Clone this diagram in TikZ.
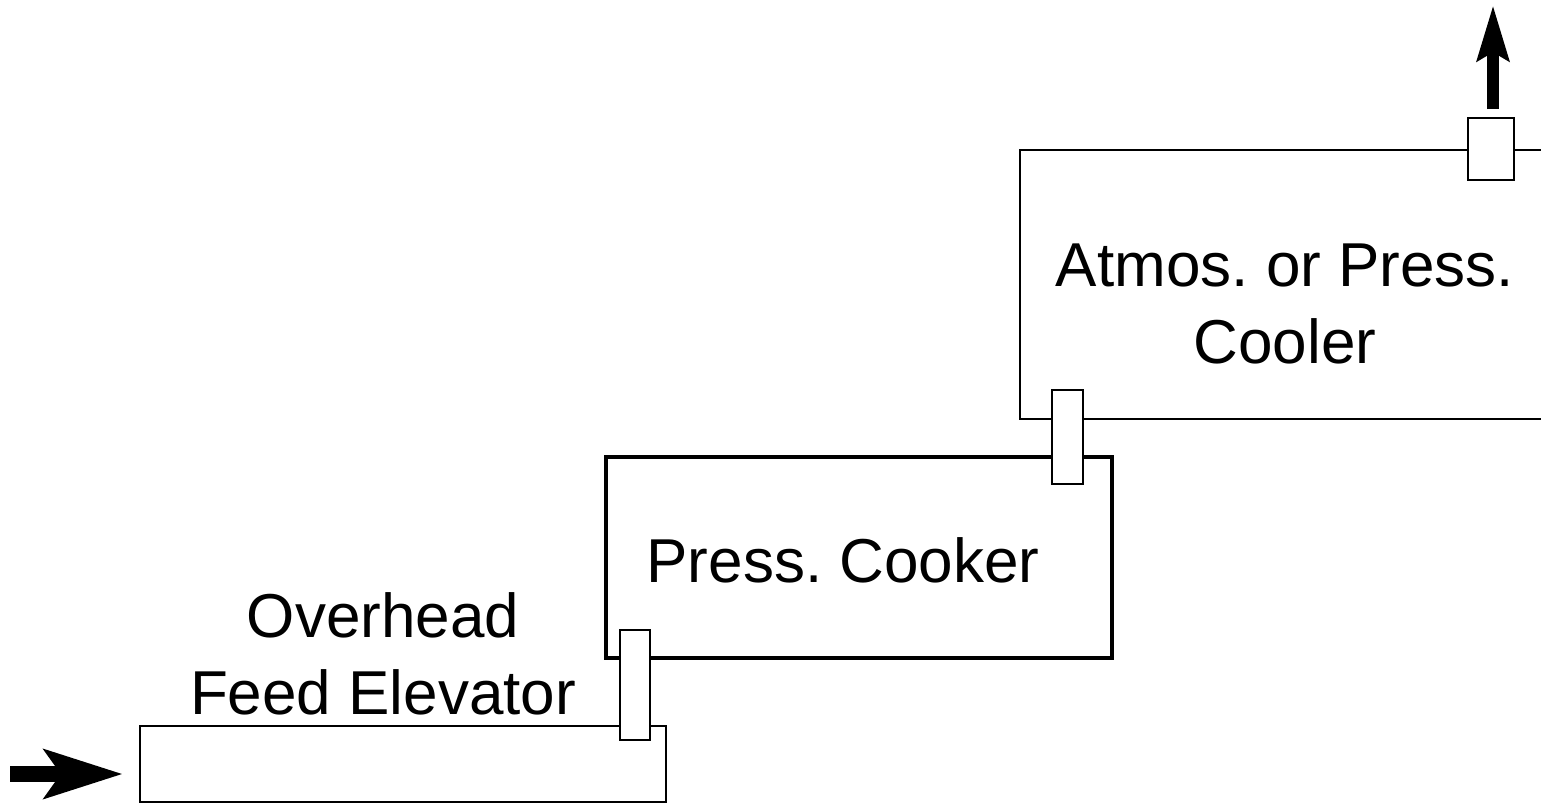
\documentclass[tikz,border=0pt]{standalone}
\usepackage{fontspec}
\setmainfont{Liberation Sans}
\usetikzlibrary{arrows.meta}
\frenchspacing
\begin{document}
\begin{tikzpicture}[x=1pt,y=-1pt,
  unitbox/.style={draw,line width=2pt,fill=white,inner sep=0pt,anchor=center},
  thickbox/.style={draw,line width=4.5pt,fill=white,inner sep=0pt,anchor=center},
  valvebox/.style={draw,line width=2pt,fill=white,inner sep=0pt,anchor=center},
  lbl/.style={font=\fontsize{62}{77}\selectfont,align=center,inner sep=0pt},
  flow/.style={line width=16pt,-{Stealth[length=78pt,width=48pt,inset=16pt]}},
  flowup/.style={line width=12pt,-{Stealth[length=55pt,width=31pt,inset=8pt]}}]
\useasboundingbox (0,0) rectangle (1541,804);
% boxes
\node[unitbox,minimum width=526pt,minimum height=76pt] (elev) at (403,764) {};
\node[thickbox,minimum width=506pt,minimum height=201pt] (cook) at (859,557.5) {};
\node[unitbox,minimum width=540pt,minimum height=269pt] (cool) at (1290,284.5) {};
% valves
\node[valvebox,minimum width=30pt,minimum height=110pt] (v1) at (635,685) {};
\node[valvebox,minimum width=31pt,minimum height=94pt] (v2) at (1067.5,437) {};
\node[valvebox,minimum width=46pt,minimum height=62pt] (v3) at (1491,149) {};
% labels
\node[lbl] (t1) at (383,654) {Overhead\\Feed Elevator};
\node[lbl] (t2) at (843,560) {Press. Cooker};
\node[lbl] (t3) at (1285,304) {Atmos. or Press.\\Cooler};
% arrows
\coordinate (inA) at (10,774);
\coordinate (inB) at (123,774);
\draw[flow] (inA) -- (inB);
\coordinate (outB) at (1493,5);
\draw[flowup,shorten <=8pt] (v3.north -| outB) -- (outB);
\end{tikzpicture}
\end{document}
